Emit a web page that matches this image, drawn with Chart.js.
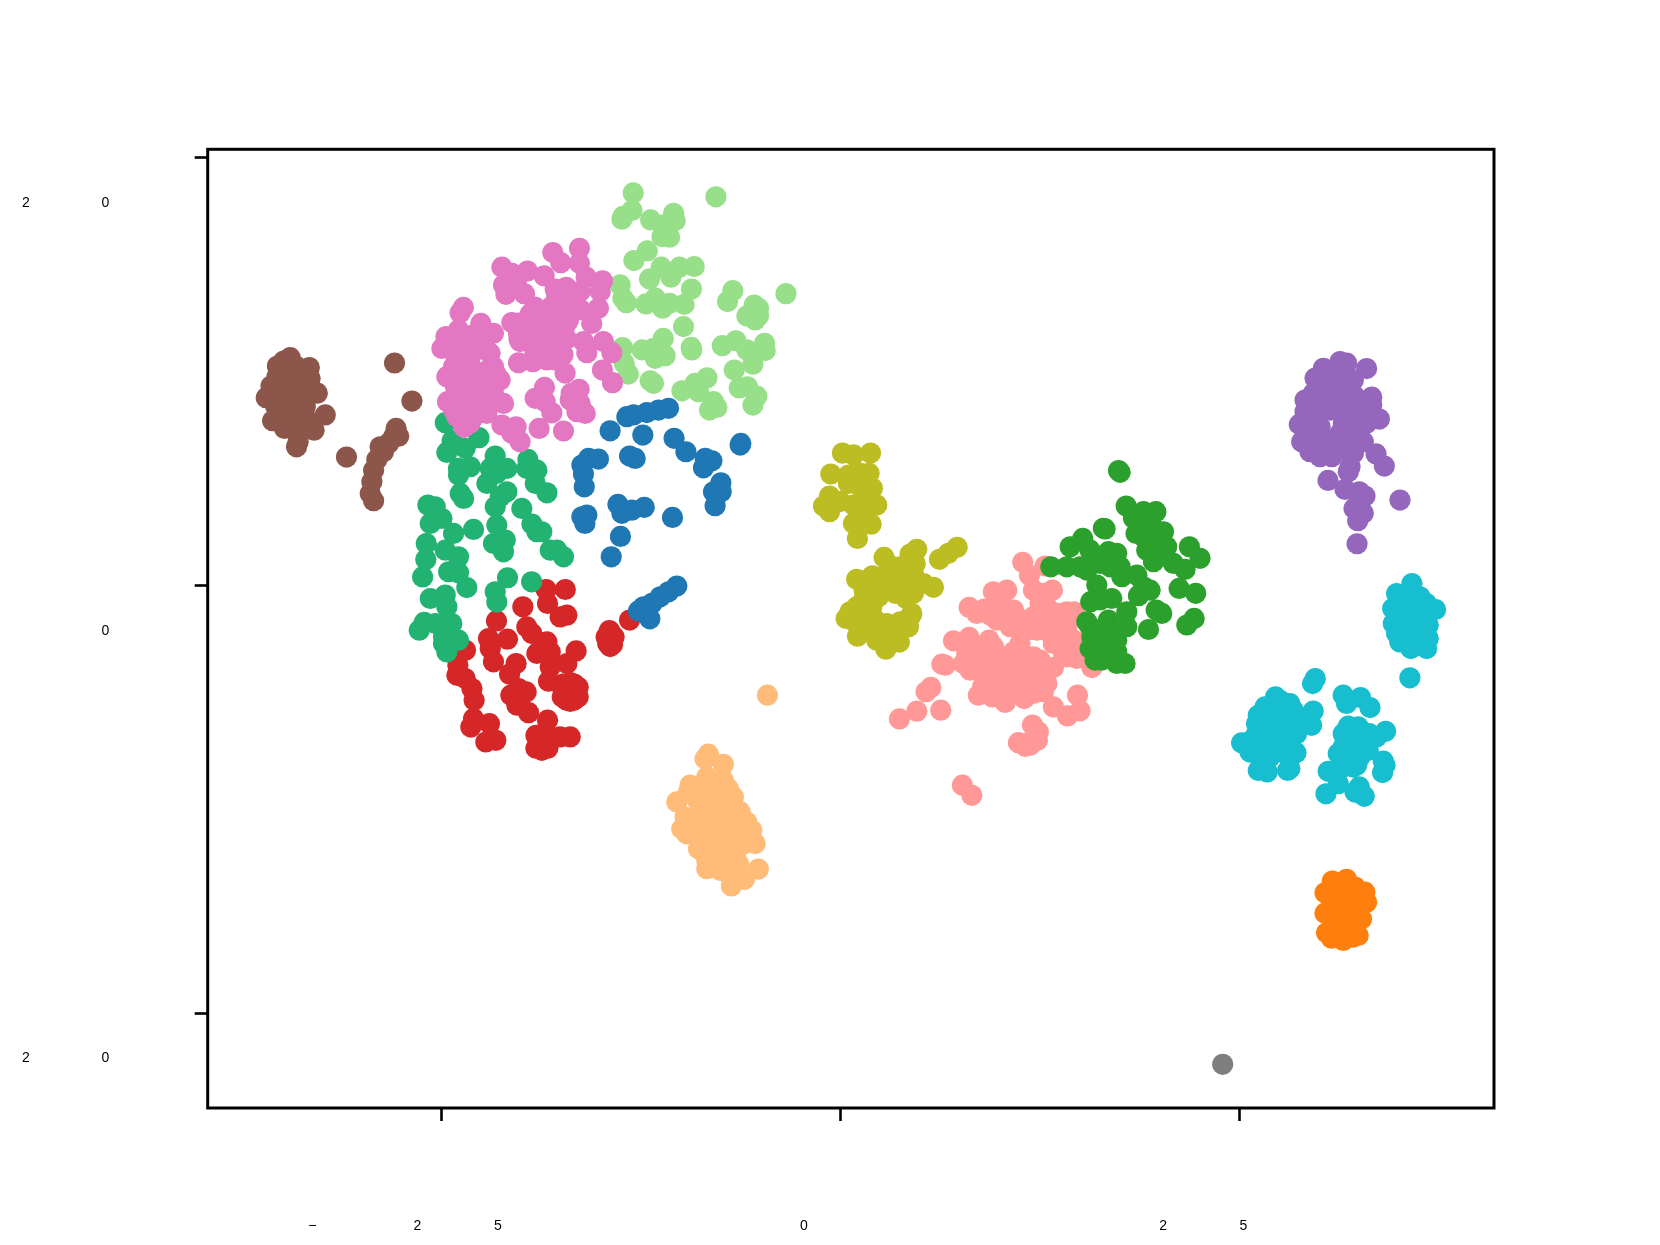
<!DOCTYPE html>
<html><head><meta charset="utf-8">
<style>html,body{margin:0;padding:0;background:#fff}canvas{display:block}</style>
<script src="https://cdn.jsdelivr.net/npm/chart.js@4"></script>
</head><body><canvas id="c" width="1660" height="1245"></canvas>
<script>
const xTicks=[-25,0,25];
const yTicks=[20,0,-20];
const xTickLabels=['−25','0','25'];
const yTickLabels=['20','0','−20'];
const pink=[[-18.04,15.57],[-16.37,15.77],[-17.54,15.1],[-16.37,15.07],[-21.23,14.89],[-20.61,14.6],[-19.63,14.71],[-18.58,14.48],[-15.95,14.42],[-14.93,14.25],[-21.13,14.06],[-20.98,13.62],[-19.81,13.64],[-17.89,13.86],[-17.2,13.95],[-16.33,13.75],[-15.07,13.75],[-15.18,12.97],[-16.95,13.08],[-18,12.89],[-19.46,12.7],[-23.64,13.01],[-23.85,12.76],[-23.95,11.95],[-22.55,12.26],[-20.61,12.3],[-18.21,12.42],[-17.06,12.42],[-15.6,12.26],[-24.74,11.64],[-24.99,11.09],[-23.01,11.72],[-21.76,11.8],[-20.19,11.8],[-18.83,11.8],[-17.37,11.8],[-16.12,11.41],[-14.87,11.41],[-15.91,10.89],[-14.34,10.89],[-17.58,11.02],[-18.63,11.17],[-20.09,11.41],[-21.97,10.86],[-24.05,10.71],[-24.26,10.24],[-24.68,9.77],[-23.01,10.08],[-21.76,10.24],[-20.19,10.42],[-19.29,10.47],[-18.41,10.55],[-17.89,10.55],[-17.27,9.94],[-14.93,10.08],[-14.3,9.49],[-23.64,9.46],[-22.17,9.46],[-21.34,9.61],[-21.76,8.99],[-23.01,8.99],[-24.05,8.83],[-24.64,8.6],[-21.13,8.52],[-22.38,8.52],[-23.64,8.37],[-24.26,8.21],[-24.05,7.9],[-23.01,7.9],[-23.22,7.59],[-22.17,8.05],[-21.23,7.51],[-20.34,7.43],[-20.61,7.12],[-20.09,6.73],[-18.9,7.35],[-17.37,7.23],[-19.15,8.76],[-18.56,9.27],[-18.52,8.6],[-18.1,8.08],[-16.89,8.99],[-16.39,9.18],[-16.95,8.68],[-16.53,8.13],[-16.01,8.05],[-16.33,8.52],
[-20.16,12.28],[-19.16,12.28],[-18.17,12.28],[-17.17,12.28],[-19.16,13.02],[-18.17,13.02],[-20.16,11.53],[-19.16,11.53],[-18.17,11.53],[-17.17,11.53],[-18.17,10.79],[-17.4,10.79],[-19.16,10.9],[-17.8,13.5],[-16.9,13.4],[-16.3,12.9],[-20.3,14.3],[-24.14,10.79],[-23.14,10.79],[-22.15,10.05],[-23.14,10.05],[-22.15,9.31],[-23.14,9.31],[-24.14,9.31],[-22.5,8.56],[-23.4,8.56],[-24.14,8.9],[-21.6,9.9],[-23.3,11.3],[-22.3,11.2],[-24,11.3],[-23.6,7.4]];
const lightGreen=[[-13,18.36],[-13.08,17.54],[-13.65,17.26],[-13.71,17.13],[-11.91,17.1],[-10.47,17.41],[-10.37,17.07],[-11.1,16.87],[-11.2,16.32],[-10.72,16.29],[-12.12,15.65],[-12.96,15.2],[-11.25,14.89],[-10.1,14.89],[-9.18,14.92],[-10.64,14.42],[-11.98,14.34],[-13.82,14.06],[-9.35,13.87],[-13.65,13.44],[-13.44,13.23],[-12.21,13.17],[-11.62,13.44],[-11.16,12.97],[-10.72,13.2],[-9.81,13.15],[-9.85,12.11],[-6.76,13.79],[-7.09,13.28],[-5.42,13.12],[-5.15,12.97],[-5.88,12.61],[-5.15,12.62],[-5.36,12.42],[-3.43,13.65],[-7.82,18.18],[-13.67,11.13],[-12.44,11.02],[-11.73,11.1],[-11.12,11.56],[-11.62,10.63],[-11,10.75],[-9.37,11.14],[-9.33,11.02],[-7.42,11.22],[-6.57,11.45],[-5.88,11.02],[-4.77,11.33],[-4.73,10.99],[-5.5,10.35],[-6.67,10.08],[-6.36,9.24],[-5.84,9.3],[-5.25,8.86],[-5.5,8.44],[-13.56,10.39],[-13.31,9.89],[-11.94,9.58],[-11.73,9.46],[-9.95,9.11],[-9.12,9.46],[-8.38,9.72],[-8.91,9.07],[-7.97,8.6],[-8.22,8.21],[-7.76,8.33]];
const teal=[[-24.78,7.62],[-24.35,6.78],[-22.67,6.92],[-24.68,6.23],[-23.53,6.42],[-21.65,6.06],[-23.95,5.48],[-23.22,5.56],[-23.95,5.17],[-21.96,5.48],[-20.92,5.48],[-22.17,4.78],[-21.55,5.25],[-19.6,5.9],[-19.67,5.48],[-19.04,5.4],[-19.14,4.78],[-18.41,4.34],[-23.84,4.31],[-23.63,4.08],[-21.65,3.69],[-20.92,4.39],[-21.34,4.16],[-19.98,3.61],[-25.87,3.77],[-25.41,3.69],[-24.99,3.14],[-25.72,2.91],[-24.26,2.44],[-23.01,2.63],[-21.55,2.83],[-19.35,2.88],[-19.04,2.52],[-18.73,2.52],[-25.97,1.97],[-24.78,1.66],[-23.95,1.35],[-21.13,1.58],[-21.76,1.97],[-21.02,2.13],[-18.2,1.66],[-17.37,1.35],[-17.79,1.66],[-26,1.22],[-26.2,0.41],[-24.57,0.65],[-23.95,0.6],[-23.43,-0.09],[-20.88,0.37],[-19.37,0.18],[-21.65,-0.29],[-21.55,-0.76],[-25.72,-0.6],[-24.78,-0.44],[-24.68,-0.99],[-26.1,-1.72],[-26.41,-2.08],[-25.41,-1.77],[-24.37,-1.77],[-24.89,-2.39],[-23.95,-2.55],[-24.68,-3.1],[-24.89,-2.71]];
const blue=[[-10.79,8.29],[-11.42,8.21],[-12.15,8.09],[-12.98,7.98],[-13.4,7.9],[-12.4,7.04],[-14.45,7.24],[-10.44,6.89],[-9.7,6.26],[-6.3,6.57],[-6.26,6.65],[-8.49,5.95],[-8.07,5.84],[-8.6,5.51],[-7.51,4.81],[-7.97,4.39],[-7.49,4.39],[-7.87,3.74],[-13.23,6.06],[-12.88,5.95],[-15.18,5.92],[-15.8,5.95],[-16.22,5.64],[-16.12,5.22],[-16.07,4.62],[-16.22,3.22],[-15.91,3.3],[-16.03,2.91],[-13.96,3.8],[-13.71,3.38],[-13.09,3.53],[-12.31,3.66],[-10.54,3.19],[-13.8,2.3],[-14.38,1.35],[-10.27,-0.02],[-10.79,-0.29],[-11.31,-0.52],[-11.83,-0.83],[-12.36,-0.99],[-12.67,-1.18],[-11.96,-1.55]];
const red=[[-17.26,-0.18],[-18.46,-0.18],[-18.37,-0.83],[-19.92,-0.99],[-17.16,-1.38],[-17.58,-1.46],[-21.57,-1.65],[-19.67,-1.93],[-19.35,-2.24],[-20.88,-2.5],[-22.07,-2.47],[-18.41,-2.63],[-16.58,-3.05],[-21.96,-2.94],[-21.76,-3.56],[-23.51,-3.02],[-19.04,-3.17],[-18.2,-3.1],[-20.34,-3.64],[-20.75,-4.14],[-17.16,-3.64],[-18.2,-3.8],[-18.31,-4.47],[-23.99,-3.72],[-24.05,-4.19],[-23.53,-4.34],[-23.11,-4.81],[-20.19,-4.81],[-19.71,-4.97],[-20.67,-5.12],[-22.97,-5.36],[-20.29,-5.59],[-19.56,-5.94],[-23.01,-6.22],[-23.18,-6.61],[-22.01,-6.45],[-22.24,-7.31],[-21.61,-7.23],[-18.37,-6.29],[-16.95,-7.07],[-17.58,-7.07],[-13.23,-1.61],[-17.4,-4.6],
[-18.73,-7.31],[-19.1,-7.0],[-18.35,-7.0],[-19.1,-7.6],[-18.35,-7.6],[-18.73,-6.95],[-18.73,-7.7],
[-17.45,-4.75],[-16.45,-4.75],[-17.45,-5.2],[-16.45,-5.2],[-16.95,-4.53],[-16.95,-5.41],[-17.2,-4.6],[-16.7,-4.6],[-17.2,-5.35],[-16.7,-5.35],[-16.95,-4.97],
[-14.5,-2.1],[-14.7,-2.4],[-14.2,-2.4],[-14.6,-2.7],[-14.3,-2.75],[-14.45,-2.85],[-14.45,-2.15]];
const brown=[[-34.5,10.66],[-34.9,10.5],[-35.3,10.27],[-33.3,10.2],[-34.1,10.24],[-33.25,9.69],[-34.5,9.77],[-35.7,9.33],[-33.9,9.46],[-32.8,9],[-36,8.79],[-35.1,9],[-34.3,8.83],[-33.45,8.83],[-35.4,8.37],[-34.5,8.37],[-33.55,8.37],[-32.3,7.98],[-35.6,7.71],[-34.85,7.35],[-34.1,7.74],[-33,7.27],[-34.1,6.49],[-34,6.73],[-34.9,7.9],[-35.5,8.68],[-33.66,7.43],[-35.33,9.77],[-27.96,10.41],[-26.87,8.63],[-30.97,6.01],[-27.86,7.35],[-27.7,6.99],[-28.34,6.65],[-28.65,6.26],[-29.07,5.9],[-29.27,5.4],[-29.38,4.86],[-29.48,4.31],[-29.27,3.97],[-28.02,6.96],[-28.86,6.49],
[-35,8],[-34,8],[-33.8,9.1],[-34.7,9.2],[-35,9.5],[-33.5,7.8]];
const lightOrange=[[-4.59,-5.12],[-8.29,-7.88],[-8.5,-8.09],[-7.35,-8.35],[-8.39,-8.94],[-9.44,-9.33],[-7.35,-9.1],[-7.04,-9.49],[-9.54,-9.65],[-10.27,-10.11],[-6.72,-9.88],[-8.6,-9.88],[-6.3,-10.58],[-7.77,-10.66],[-8.81,-10.97],[-9.75,-10.82],[-5.89,-11.05],[-5.57,-11.44],[-9.96,-11.36],[-9.65,-11.6],[-5.36,-12.06],[-7.77,-11.6],[-6.72,-11.75],[-8.91,-12.3],[-7.77,-12.37],[-6.51,-12.37],[-8.39,-13.23],[-7.56,-13.31],[-6.41,-13],[-5.16,-13.25],[-6.03,-13.73],[-6.85,-14.04],[-8.39,-12.84],[-5.99,-12.06],
[-8.55,-9.26],[-7.56,-9.26],[-9,-10],[-8,-10],[-7,-10],[-9,-10.74],[-8.3,-10.74],[-7.3,-10.9],[-6.5,-11],[-8.7,-11.5],[-8,-11.4],[-7.2,-11.9],[-6.2,-11.6],[-8.2,-12.1],[-7.3,-12.7],[-6.7,-12.9],[-8,-13],[-7,-13.5]];
const olive=[[0.11,6.2],[0.8,6.11],[1.87,6.2],[-0.62,5.22],[0.49,5.17],[1.22,5.25],[1.78,5.25],[0.49,4.78],[1.99,4.55],[1.22,4.63],[-0.7,4.19],[-1.08,3.72],[-0.7,3.46],[-0.03,3.93],[0.8,3.77],[2.26,3.77],[1.64,3.54],[0.8,2.91],[1.91,2.87],[1.05,2.21],[2.72,1.32],[4.77,1.7],[4.35,1.48],[4.67,1.04],[3.73,0.88],[1.99,0.46],[2.89,0.57],[4.56,0.57],[5.19,0.1],[5.81,-0.08],[1.47,-0.21],[2.47,-0.21],[3.73,-0.05],[4.56,-0.36],[1.01,-0.99],[1.95,-0.99],[0.34,-1.53],[0.59,-1.22],[4.46,-1.3],[1.05,-2.36],[3.73,-1.69],[4.25,-1.92],[2.16,-1.61],[2.89,-1.77],[1.64,-2.08],[2.26,-2.55],[2.83,-2.97],[3.68,-2.64],[3.31,-2.08],[6.19,1.23],[6.75,1.51],[7.3,1.79],
[1,0.3],[3.5,0.1],[1.5,4.2],[1.2,3.4],[1.5,3.2],[3.2,0.9],[2.2,0.2],[4,0.2],[1.3,-1.6],[0.9,-1.7],[2.6,-2.3],[1.4,-0.7],
[3.41,-0.36],[2.37,-0.52],[1.95,-1.45],[1.64,0.26],[1.85,-0.83],[4.35,-1.45],[3.73,-2.08],[2.58,-2.08],[4.1,-0.6]];
const darkGreen=[[17.41,5.38],[17.51,5.3],[17.89,3.72],[18.35,3.15],[18.97,3.46],[19.75,3.46],[18.51,2.44],[19.18,2.76],[20.23,2.52],[19.39,2.13],[20.43,1.82],[19.18,1.66],[19.6,1.12],[20.23,1.43],[21.85,1.82],[22.52,1.28],[21.58,0.76],[20.85,1.04],[16.46,2.68],[16.57,2.65],[15.17,2.21],[14.38,1.82],[15.63,1.66],[13.17,0.88],[14.17,0.88],[15,0.88],[15.84,1.04],[16.78,1.59],[17.3,1.51],[16.88,0.88],[17.62,0.42],[18.56,0.49],[16.05,0.03],[19.39,-0.21],[18.66,-0.47],[15.67,-0.75],[16.99,-0.6],[17.93,-1.22],[19.77,-1.14],[20.12,-1.3],[21.21,-0.13],[22.25,-0.36],[22.15,-1.53],[21.69,-1.84],[19.29,-2.05],[15.42,-1.69],[16.78,-1.61],[17.93,-1.92],[17.3,-2.08],[15.74,-2.39],[15.63,-2.94],[16.88,-2.86],[17.3,-3.09],[15.94,-3.48],[17.3,-3.64],[17.82,-3.64],
[18.97,2.29],[19.6,1.98],[19.91,2.29],[19.5,2.8],[20,1.9],[16.26,-0.67],[15.63,-1.92],[16.26,-2.86],[16.26,-2.39],[16.88,-2.39],[16.36,-3.48],[17.51,0.88],[16.26,1.04],[18.97,-0.05],[15.42,0.73],[17.3,-2.55]];
const lightPink=[[11.41,1.09],[12.81,0.92],[11.83,0.49],[13.27,-0.21],[9.57,-0.29],[10.41,-0.21],[8.05,-1.02],[8.53,-1.3],[9.99,-0.99],[10.83,-1.14],[12.5,-0.83],[14.17,-1.22],[14.63,-1.22],[9.78,-1.61],[10.62,-1.92],[11.66,-2.08],[12.92,-1.69],[13.75,-2.23],[14.59,-2.55],[13.96,-3.17],[14.8,-3.4],[15.74,-3.83],[7.07,-2.58],[8.05,-2.42],[9.3,-2.55],[7.9,-3.17],[9.16,-3.33],[10.41,-3.33],[11.35,-3.25],[12.5,-3.48],[13.33,-3.83],[8.11,-3.95],[9.16,-4.26],[10.41,-3.95],[11.66,-4.11],[12.92,-4.57],[12.71,-4.96],[9.99,-4.89],[8.63,-5.12],[10.31,-5.46],[11.5,-5.28],[13.33,-5.67],[14.84,-5.12],[15,-5.85],[14.21,-6.09],[6.34,-3.67],[6.55,-3.72],[5.65,-4.76],[5.35,-4.96],[3.68,-6.23],[4.77,-5.87],[6.27,-5.82],[12.02,-6.52],[12.39,-6.84],[12.33,-7.23],[11.56,-7.51],[11.14,-7.34],[7.63,-9.33],[8.22,-9.8],[13.75,-2.7],[11.24,-2.7],
[9.99,-0.6],[10.83,-1.45],[11.45,-1.61],[12.08,-1.45],[12.92,-0.99],[13.54,-1.3],[12.29,-2.08],[11.24,-2.08],[10.1,-1.45],[13.12,-2.23],[14.17,-2.39],[12.08,-0.21],[12.71,-0.36],[8.32,-2.86],[9.57,-2.86],[10.83,-3.09],[12.08,-3.33],[8.53,-3.48],[9.78,-3.79],[11.04,-3.64],[12.29,-3.95],[9.78,-4.42],[11.04,-4.57],[12.08,-4.57],[10.83,-5.04],[12.08,-5.04],[9.37,-5.04],[10.41,-4.34],[7.69,-3.64],[13.02,-3.95],[14.17,-3.33],[13.33,-2.7],[14.17,-1.92],[15,-2.7],[12.08,-7.15],[11.87,-7.46],
[9,-1.1],[9.4,-1.4],[10.3,-1.6],[9.5,-5.2],[8.9,-4.7]];
const purple=[[32.96,10.15],[31.29,10.48],[31.71,10.4],[30.25,10.16],[29.73,9.7],[30.87,9.77],[32.13,9.62],[29.1,8.68],[30.25,9.15],[31.5,8.99],[33.28,8.81],[33.28,8.45],[29.1,8.14],[30.04,8.37],[31.71,8.21],[32.55,8.21],[33.76,7.79],[28.74,7.54],[30.04,7.43],[31.5,7.59],[32.34,7.75],[28.89,6.73],[30.04,6.81],[31.71,6.81],[32.75,6.73],[29.41,6.26],[30.04,6.03],[30.77,6.03],[32.13,6.19],[33.55,6.16],[34.07,5.59],[31.92,5.56],[31.81,5.33],[30.54,4.92],[31.61,4.5],[32.5,4.39],[32.86,4.19],[35.05,4],[32.17,3.61],[32.75,3.38],[32.4,3.04],[32.36,1.96],[30.87,6.81],
[29.62,8.99],[30.87,9.15],[32.23,8.84],[29.62,7.9],[30.67,8.21],[32.13,7.28],[32.96,7.59],[29.41,7.12],[30.25,6.5],[32.34,6.97],[31.29,7.12],[33.17,8.06],[31.71,9.62],[30.56,8.53],[31.92,6.19],[31.08,6.34],[32.55,4]];
const cyan=[[35.8,0.1],[34.84,-0.37],[36.3,-0.52],[34.59,-1.07],[35.67,-0.99],[36.72,-0.84],[37.28,-1.12],[34.63,-1.77],[35.67,-1.93],[36.82,-1.85],[35.04,-2.63],[36.09,-2.4],[36.82,-2.47],[35.73,-2.94],[36.72,-2.94],[35.67,-4.31],[29.74,-4.34],[29.57,-4.58],[27.25,-5.2],[26.59,-5.67],[28.15,-5.51],[26.17,-6.06],[27.32,-5.98],[28.36,-5.83],[29.61,-5.86],[28.99,-6.29],[29.51,-6.53],[26.06,-6.92],[27.32,-6.76],[28.57,-6.92],[25.12,-7.35],[25.65,-7.78],[26.69,-7.54],[27.63,-7.39],[28.53,-7.81],[26.17,-8.64],[26.73,-8.71],[28.01,-8.64],[28.15,-8.55],[26.9,-8.01],[31.49,-5.12],[31.7,-5.51],[32.58,-5.23],[33.17,-5.7],[31.81,-6.57],[32.43,-6.6],[33.12,-6.92],[34.15,-6.81],[31.7,-7.23],[32.64,-7.39],[31.18,-7.85],[32.12,-7.85],[33.06,-7.7],[34,-8.2],[34.11,-8.4],[33.96,-8.74],[30.55,-8.68],[31.18,-9.26],[30.41,-9.73],[32.33,-8.4],[32.5,-9.41],[32.23,-9.65],[32.81,-9.85],[31.49,-8.48],
[35.67,-0.37],[35.25,-1.3],[36.3,-1.3],[35.25,-1.93],[36.19,-1.85],[35.46,-2.55],[36.51,-2.08],[36.09,-0.84],[35.15,-0.68],[36.4,-2.71],[34.84,-2.24],[26.69,-6.61],[27.94,-6.29],[26.69,-7.07],[27.94,-6.92],[26.06,-6.45],[27.32,-7.23],[27.53,-5.36],[26.27,-8.01],[25.75,-7.23],[27.84,-7.85],[28.57,-6.29],[26.69,-6.14],[32.12,-7.07],[31.49,-7.54],[32.54,-8.01],[32.12,-8.48],[32.96,-7.23],[31.49,-6.92],[33.58,-7.07]];
const orange=[[30.81,-13.81],[31.7,-13.73],[30.35,-14.36],[32.23,-14.09],[32.85,-14.33],[32.96,-14.8],[31.49,-14.56],[30.35,-15.31],[31.49,-15.18],[32.64,-15.58],[30.45,-16.23],[31.49,-15.97],[32.43,-16.35],[30.76,-16.48],[31.49,-16.59],[32.12,-16.43],
[31.29,-14.09],[30.87,-14.87],[32.12,-14.87],[30.87,-15.81],[32.12,-15.81],[32.33,-15.19],[31.49,-15.5]];
const gray=[[23.94,-22.38]];

// first dataset is painted last, so it ends up on top
const series=[[pink,'#e377c2'],[lightGreen,'#98df8a'],[teal,'#22b373'],[blue,'#1f77b4'],[red,'#d62728'],[brown,'#8c564b'],[lightOrange,'#ffbb78'],[olive,'#bcbd22'],[darkGreen,'#2ca02c'],[lightPink,'#ff9896'],[purple,'#9467bd'],[cyan,'#17becf'],[orange,'#ff7f0e'],[gray,'#7f7f7f']];

const frame={
 id:'frame',
 afterDraw(ch){
  const {ctx,chartArea:a,scales:s}=ch;
  ctx.save();
  ctx.strokeStyle='#000';ctx.lineWidth=3;
  ctx.strokeRect(a.left,a.top,a.right-a.left,a.bottom-a.top);
  ctx.fillStyle='#000';ctx.font='14px "Liberation Sans"';ctx.textAlign='center';ctx.textBaseline='middle';
  // glyph-by-glyph placement of the widely spaced tick labels
  const xGlyphOffsets=[[-129.5,-24.5,56],[-36.8],[-76.5,3.8]];
  xTickLabels.forEach((t,i)=>{const p=s.x.getPixelForValue(xTicks[i]);
    [...t].forEach((g,j)=>ctx.fillText(g,p+xGlyphOffsets[i][j],1226.5));});
  const yGlyphX=[[26,105.5],[105.5],[-80,26,105.5]];
  yTickLabels.forEach((t,i)=>{const p=s.y.getPixelForValue(yTicks[i]);
    [...t].forEach((g,j)=>{if(yGlyphX[i][j]>=0)ctx.fillText(g,yGlyphX[i][j],p+45);});});
  ctx.restore();
 }
};
const scaleCommon={
 grid:{drawOnChartArea:false,drawTicks:true,tickLength:13,tickColor:'#000',tickWidth:2.6},
 border:{display:false},
 ticks:{display:false}
};
new Chart(document.getElementById('c'),{
 type:'scatter',
 data:{datasets:series.map(([d,col])=>({data:d.map(([x,y])=>({x,y})),backgroundColor:col,borderWidth:0,pointRadius:10.6,pointHoverRadius:10.6}))},
 options:{
  responsive:false,animation:false,
  layout:{padding:{left:0,top:149.3,right:166,bottom:0}},
  plugins:{legend:{display:false},tooltip:{enabled:false},title:{display:false}},
  scales:{
   x:{type:'linear',min:-39.67,max:40.94,...scaleCommon,
      afterBuildTicks(s){s.ticks=xTicks.map(v=>({value:v}));},
      afterFit(s){s.height=137;}},
   y:{type:'linear',min:-24.42,max:20.40,...scaleCommon,
      afterBuildTicks(s){s.ticks=yTicks.map(v=>({value:v}));},
      afterFit(s){s.width=207.7;}}
  }
 },
 plugins:[frame]
});
</script></body></html>
